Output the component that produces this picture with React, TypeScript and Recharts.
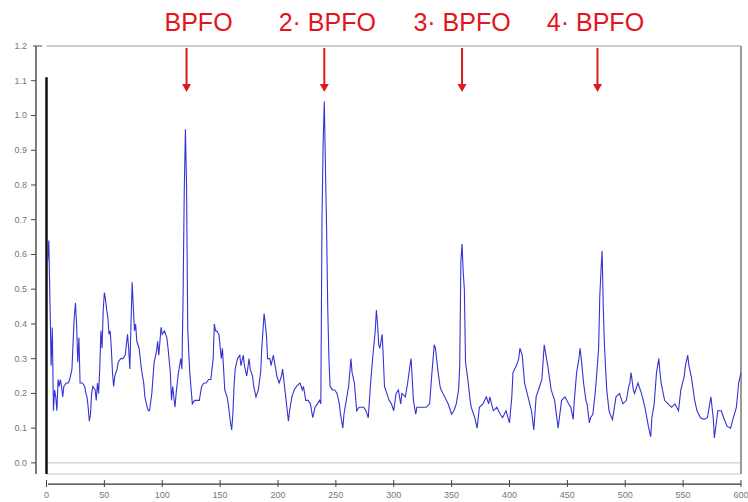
import React from "react";
import { LineChart, Line, XAxis, YAxis, ReferenceLine, Scatter } from "recharts";

// Envelope spectrum, segment by segment: [frequency, amplitude]
const spectrumA: number[][] = [
  [1, 0.58], [2, 0.64], [3, 0.46], [4, 0.28], [5, 0.39], [6, 0.15], [7, 0.21], [8, 0.19], [9, 0.15], [10, 0.24],
  [11, 0.22], [12, 0.24], [13, 0.22], [14, 0.19], [15, 0.22], [17, 0.23], [19, 0.23], [20, 0.24], [22, 0.27], [23, 0.35],
  [24, 0.42], [25, 0.46], [26, 0.40], [27, 0.29], [28, 0.36], [29, 0.23], [31, 0.23], [33, 0.22], [34, 0.20], [35, 0.19],
  [36, 0.16], [37, 0.12], [38, 0.14], [39, 0.20], [40, 0.22], [42, 0.21], [43, 0.18], [44, 0.23], [45, 0.20], [46, 0.27],
  [47, 0.38], [48, 0.33], [49, 0.44], [50, 0.49], [51, 0.47], [52, 0.44], [53, 0.42], [54, 0.37], [55, 0.38], [56, 0.33],
  [57, 0.26], [58, 0.22], [59, 0.25], [61, 0.27], [62, 0.29], [64, 0.30], [66, 0.30], [68, 0.31], [70, 0.37], [71, 0.33],
  [72, 0.27], [73, 0.40], [74, 0.52], [75, 0.45], [76, 0.38], [77, 0.40], [78, 0.35], [80, 0.33], [81, 0.30], [82, 0.27],
  [84, 0.23], [85, 0.19], [87, 0.16], [88, 0.15], [89, 0.15], [91, 0.20], [93, 0.29], [95, 0.32], [96, 0.35], [97, 0.31],
  [99, 0.39], [100, 0.37], [102, 0.38], [104, 0.36], [105, 0.33], [107, 0.26], [108, 0.18], [109, 0.22], [111, 0.16], [112, 0.20],
  [114, 0.26], [116, 0.30], [117, 0.27], [118, 0.48], [119, 0.78], [120, 0.96], [121, 0.80], [122, 0.39], [123, 0.31], [124, 0.25],
  [125, 0.21], [126, 0.17], [128, 0.18], [130, 0.18], [132, 0.18], [134, 0.22], [136, 0.23], [138, 0.23], [140, 0.24], [142, 0.24],
  [144, 0.30], [145, 0.40], [146, 0.38], [147, 0.38],
];

const spectrumB: number[][] = [
  [149, 0.37], [151, 0.30], [152, 0.33], [153, 0.27], [154, 0.21], [156, 0.19], [157, 0.17], [159, 0.115], [160, 0.095], [161, 0.14],
  [162, 0.22], [163, 0.27], [165, 0.30], [167, 0.31], [168, 0.28], [170, 0.31], [171, 0.28], [173, 0.25], [175, 0.30], [176, 0.27],
  [178, 0.25], [179, 0.22], [181, 0.19], [183, 0.21], [185, 0.26], [186, 0.33], [188, 0.43], [189, 0.40], [190, 0.37], [191, 0.30],
  [193, 0.30], [194, 0.28], [196, 0.31], [198, 0.27], [199, 0.25], [201, 0.23], [203, 0.25], [204, 0.27], [205, 0.24], [207, 0.18],
  [209, 0.12], [210, 0.15], [212, 0.19], [214, 0.21], [216, 0.22], [219, 0.23], [221, 0.21], [222, 0.22], [224, 0.18], [226, 0.18],
  [228, 0.17], [230, 0.13], [232, 0.16], [234, 0.17], [236, 0.18], [237, 0.17], [238, 0.70], [239, 0.92], [240, 1.04], [241, 0.85],
  [242, 0.67], [243, 0.44], [244, 0.30], [245, 0.22], [247, 0.21], [249, 0.21], [251, 0.20], [253, 0.17], [254, 0.14], [256, 0.10],
  [257, 0.14], [259, 0.18], [261, 0.22], [263, 0.30], [264, 0.26], [266, 0.23], [268, 0.15], [270, 0.16], [272, 0.16], [274, 0.16],
  [276, 0.15], [278, 0.13], [280, 0.23], [282, 0.31], [284, 0.38], [285, 0.44], [286, 0.40], [287, 0.34], [288, 0.33], [290, 0.37],
  [291, 0.30], [292, 0.22], [294, 0.20], [296, 0.18], [298, 0.17],
];

const spectrumC: number[][] = [
  [300, 0.15], [302, 0.20], [304, 0.21], [306, 0.17], [307, 0.20], [310, 0.19], [312, 0.23], [314, 0.28], [315, 0.30], [317, 0.18],
  [319, 0.14], [320, 0.16], [322, 0.16], [325, 0.16], [328, 0.16], [331, 0.17], [333, 0.26], [334, 0.30], [335, 0.34], [336, 0.33],
  [338, 0.27], [340, 0.22], [341, 0.21], [344, 0.19], [347, 0.17], [350, 0.14], [352, 0.15], [354, 0.17], [356, 0.21], [357, 0.28],
  [358, 0.58], [359, 0.63], [360, 0.55], [361, 0.50], [362, 0.29], [364, 0.24], [366, 0.18], [367, 0.16], [370, 0.13], [372, 0.10],
  [374, 0.16], [377, 0.17], [380, 0.19], [382, 0.17], [383, 0.19], [386, 0.15], [389, 0.16], [392, 0.14], [394, 0.13], [397, 0.15],
  [400, 0.115], [402, 0.19], [403, 0.26], [406, 0.28], [408, 0.30], [409, 0.33], [411, 0.31], [413, 0.23], [416, 0.19], [419, 0.15],
  [421, 0.095], [423, 0.19], [426, 0.22], [428, 0.24], [430, 0.34], [431, 0.32], [433, 0.28], [436, 0.21], [439, 0.18], [442, 0.10],
  [445, 0.18], [448, 0.19],
];

const spectrumD: number[][] = [
  [451, 0.17], [453, 0.16], [455, 0.125], [456, 0.18], [458, 0.26], [460, 0.30], [461, 0.33], [462, 0.30], [464, 0.23], [466, 0.18],
  [467, 0.17], [469, 0.115], [470, 0.13], [472, 0.14], [474, 0.20], [475, 0.24], [477, 0.33], [478, 0.48], [479, 0.55], [480, 0.61],
  [481, 0.45], [482, 0.34], [484, 0.21], [486, 0.15], [487, 0.14], [489, 0.125], [492, 0.19], [495, 0.20], [498, 0.17], [501, 0.18],
  [503, 0.22], [504, 0.23], [505, 0.26], [507, 0.21], [508, 0.20], [511, 0.23], [514, 0.20], [517, 0.16], [520, 0.105], [522, 0.075],
  [523, 0.13], [525, 0.17], [527, 0.26], [529, 0.30], [530, 0.26], [531, 0.23], [534, 0.18], [537, 0.17], [540, 0.16], [543, 0.17],
  [546, 0.15], [548, 0.21], [551, 0.25], [552, 0.28], [554, 0.31], [555, 0.28], [557, 0.25], [560, 0.18], [562, 0.15], [565, 0.13],
  [568, 0.125], [571, 0.13], [574, 0.19], [576, 0.13], [577, 0.072], [580, 0.15], [583, 0.15], [585, 0.13], [588, 0.105], [591, 0.10],
  [593, 0.125], [596, 0.16], [598, 0.23], [600, 0.26],
];

// DC component drawn in black at 0 Hz
const dcLine: number[][] = [[0, -0.032], [0, 1.11]];

// BPFO harmonic annotations
const harmonicLabels = ["BPFO", "2· BPFO", "3· BPFO", "4· BPFO"];
const harmonicFreqs = [121, 240, 359, 476];
const labelShift = [12, 3, 0, -2];

const xTicks = [0, 50, 100, 150, 200, 250, 300, 350, 400, 450, 500, 550, 600];
const yTicks = [0, 0.1, 0.2, 0.3, 0.4, 0.5, 0.6, 0.7, 0.8, 0.9, 1.0, 1.1, 1.2];

const Y_MIN = -0.032;
const Y_MAX = 1.2;

const toRows = (pairs: number[][]) => pairs.map(([x, v]) => ({ x, v }));
const spectrum = toRows([...spectrumA, ...spectrumB, ...spectrumC, ...spectrumD]);
const dcRows = toRows(dcLine);
const annotations = harmonicFreqs.map((x, i) => ({ x, v: Y_MAX, label: harmonicLabels[i], shift: labelShift[i] }));

const FONT = "'Liberation Sans', Arial, sans-serif";

const YTick = (props: any) => {
  const { y, payload } = props;
  const top = Math.abs(payload.value - 1.2) < 1e-6;
  return (
    <g>
      <line x1={top ? 33 : 31} x2={top ? 42 : 36} y1={y} y2={y} stroke="#444" strokeWidth={1} />
      <text x={27} y={y} dy={3} textAnchor="end" fontSize={9} fill="#777" fontFamily={FONT}>
        {Number(payload.value).toFixed(1)}
      </text>
    </g>
  );
};

const XTick = (props: any) => {
  const { x, payload } = props;
  return (
    <g>
      <line x1={x} x2={x} y1={480} y2={487} stroke="#444" strokeWidth={1} />
      <text x={x} y={498} textAnchor="middle" fontSize={9} fill="#777" fontFamily={FONT}>
        {payload.value}
      </text>
    </g>
  );
};

const Annotation = (props: any) => {
  const { cx, cy, payload } = props;
  if (cx == null || cy == null) return null;
  const tipY = cy + 46;
  return (
    <g>
      <text x={cx + payload.shift} y={cy - 15} textAnchor="middle" fontSize={25} fill="#e3141c" fontFamily={FONT}>
        {payload.label}
      </text>
      <line x1={cx} x2={cx} y1={cy + 2} y2={tipY - 6} stroke="#e01818" strokeWidth={2} />
      <polygon points={`${cx - 4.5},${tipY - 8} ${cx + 4.5},${tipY - 8} ${cx},${tipY}`} fill="#e01818" />
    </g>
  );
};

export default function App() {
  return (
    <div style={{ width: 748, height: 502, background: "#fff" }}>
      <style>{`body{margin:0;background:#fff}`}</style>
      <LineChart width={748} height={502} margin={{ top: 46, right: 7, bottom: 0, left: 10.5 }}>
        <XAxis
          type="number"
          dataKey="x"
          domain={[0, 600]}
          ticks={xTicks}
          interval={0}
          axisLine={false}
          tickLine={false}
          height={28}
          tick={<XTick />}
        />
        <YAxis
          type="number"
          domain={[Y_MIN, Y_MAX]}
          ticks={yTicks}
          interval={0}
          axisLine={false}
          tickLine={false}
          width={36}
          tick={<YTick />}
        />
        <ReferenceLine y={Y_MAX} stroke="#9a9a9a" strokeWidth={1.2} />
        <ReferenceLine y={0} stroke="#c4c4c4" strokeWidth={1} />
        <ReferenceLine y={Y_MIN} stroke="#c4c4c4" strokeWidth={1} />
        <ReferenceLine x={600} stroke="#9a9a9a" strokeWidth={2} />
        <ReferenceLine
          segment={[{ x: -9.1, y: Y_MIN }, { x: -9.1, y: Y_MAX }]}
          stroke="#333"
          strokeWidth={1.3}
          ifOverflow="visible"
        />
        <ReferenceLine
          segment={[{ x: 1.3, y: -0.061 }, { x: 600, y: -0.061 }]}
          stroke="#333"
          strokeWidth={1.3}
          ifOverflow="visible"
        />
        <Line
          data={dcRows}
          dataKey="v"
          type="linear"
          stroke="#111"
          strokeWidth={2.5}
          dot={false}
          isAnimationActive={false}
        />
        <Line
          data={spectrum}
          dataKey="v"
          type="linear"
          stroke="#3434d4"
          strokeWidth={1.1}
          dot={false}
          isAnimationActive={false}
        />
        <Scatter data={annotations} dataKey="v" shape={<Annotation />} isAnimationActive={false} />
      </LineChart>
    </div>
  );
}
